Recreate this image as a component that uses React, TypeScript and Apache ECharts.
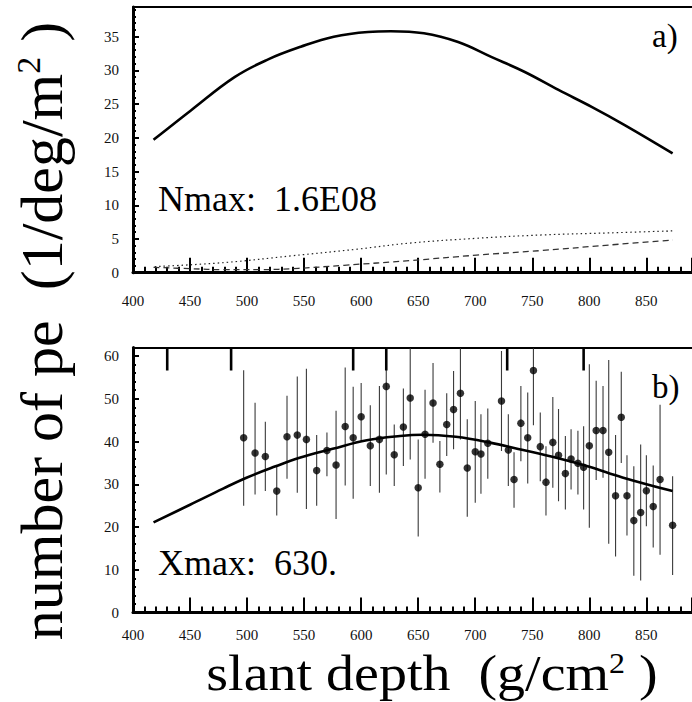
import React, { useEffect, useRef } from "react";
import * as echarts from "echarts";

// ---- Panel a) : longitudinal profile (number of pe vs slant depth)
const aDepth = [418, 451, 489, 518, 547, 576, 606, 626, 655, 685, 714, 743, 773, 802, 831, 873];
const aTotal = [19.7, 24.1, 29.0, 31.6, 33.5, 35.0, 35.7, 35.8, 35.5, 34.2, 32.0, 29.8, 27.1, 24.6, 21.9, 17.7];
const aDotDepth = [419, 480, 539, 597, 643, 701, 759, 817, 873];
const aDotted = [0.9, 1.5, 2.5, 3.5, 4.4, 5.1, 5.6, 5.9, 6.2];
const aDashDepth = [418, 450, 480, 510, 545, 585, 643, 701, 759, 817, 873];
const aDashed = [0.8, 0.6, 0.45, 0.45, 0.65, 1.1, 1.8, 2.6, 3.3, 4.1, 4.85];

// ---- Panel b) : measured points with error bars and fit
const bDepth = [497, 507, 516, 526, 535, 544, 552, 561, 570, 578, 586, 593, 600, 608, 616, 622, 629, 637, 643, 650, 656, 663, 669, 675, 681, 687, 693, 700, 705, 711, 723, 729, 734, 740, 746, 751, 757, 762, 768, 773, 779, 784, 790, 795, 800, 806, 812, 817, 823, 828, 833, 839, 845, 850, 856, 862, 873];
const bValue = [40.9, 37.3, 36.5, 28.4, 41.1, 41.5, 40.5, 33.2, 37.9, 34.5, 43.5, 40.9, 45.8, 39.0, 40.5, 52.9, 36.9, 43.4, 50.2, 29.2, 41.7, 49.0, 34.7, 44.0, 47.5, 51.3, 33.8, 37.6, 37.1, 39.6, 49.5, 38.0, 31.1, 44.3, 40.9, 56.6, 38.8, 30.5, 39.8, 36.8, 32.5, 35.9, 34.9, 34.0, 39.0, 42.6, 42.6, 37.5, 27.3, 45.7, 27.3, 21.5, 23.4, 28.5, 24.8, 31.1, 20.4];
const bLow = [25.0, 27.6, 28.4, 22.7, 31.3, 28.0, 24.2, 25.0, 31.9, 21.9, 29.7, 26.6, 40.1, 29.6, 28.0, 32.3, 29.6, 34.3, 35.8, 17.8, 31.3, 39.7, 28.1, 36.6, 38.2, 40.5, 22.4, 25.7, 27.8, 31.3, 37.8, 29.6, 24.5, 35.4, 30.2, 43.8, 30.7, 22.7, 29.2, 26.0, 24.1, 28.8, 27.6, 24.1, 19.8, 31.0, 31.5, 16.1, 13.1, 35.0, 18.0, 8.6, 7.5, 20.2, 15.2, 13.5, 8.8];
const bHigh = [56.7, 49.1, 44.6, 34.2, 50.7, 55.2, 57.0, 41.5, 42.1, 47.2, 57.3, 52.8, 53.7, 48.5, 53.0, 62.0, 44.0, 52.4, 61.8, 40.5, 52.1, 58.4, 40.1, 51.3, 56.5, 61.8, 45.2, 49.5, 46.4, 47.7, 61.2, 46.4, 37.5, 53.0, 51.5, 61.8, 46.8, 38.9, 50.4, 47.6, 41.3, 42.9, 42.5, 43.6, 58.1, 54.2, 53.0, 59.1, 41.5, 56.3, 36.8, 34.2, 39.3, 36.8, 34.4, 48.6, 31.9];
const bFitDepth = [418, 450, 479, 500, 525, 546, 575, 605, 634, 654, 683, 712, 742, 771, 800, 829, 873];
const bFit = [21.1, 25.2, 29.0, 31.6, 34.2, 36.2, 38.3, 40.3, 41.3, 41.6, 41.1, 39.8, 38.0, 36.2, 34.1, 31.6, 28.4];
const bMarks = [430, 486, 593, 622, 728, 795];

const xTickLabels = ["400", "450", "500", "550", "600", "650", "700", "750", "800", "850"];

const SERIF = "Liberation Serif";
const X_MIN = 400;
const X_MAX = 890;
const A_MAX = 39.4;
const B_MAX = 62;

const zip = (xs: number[], ys: number[]) => xs.map((x, i) => [x, ys[i]]);

function bottomAxis(grid: number, margin: number) {
  return {
    type: "value",
    gridIndex: grid,
    position: "bottom",
    min: X_MIN,
    max: X_MAX,
    interval: 50,
    axisLine: { show: true, onZero: false, lineStyle: { color: "#000", width: 3 } },
    axisTick: { show: true, inside: true, length: 15, lineStyle: { color: "#000", width: 2 } },
    minorTick: { show: true, splitNumber: 5, length: 6, lineStyle: { color: "#000", width: 2 } },
    splitLine: { show: false },
    minorSplitLine: { show: false },
    axisLabel: {
      show: true,
      margin,
      fontSize: 15,
      fontFamily: SERIF,
      color: "#111",
      showMaxLabel: false,
      formatter: (v: number) => (xTickLabels.indexOf(String(v)) >= 0 ? String(v) : ""),
    },
  };
}

function topAxis(grid: number) {
  return {
    type: "value",
    gridIndex: grid,
    position: "top",
    min: X_MIN,
    max: X_MAX,
    interval: 50,
    axisLine: { show: true, onZero: false, lineStyle: { color: "#000", width: 2 } },
    axisTick: { show: false },
    axisLabel: { show: false },
    splitLine: { show: false },
  };
}

function leftAxis(grid: number, max: number, interval: number) {
  return {
    type: "value",
    gridIndex: grid,
    min: 0,
    max,
    interval,
    axisLine: { show: true, onZero: false, lineStyle: { color: "#000", width: 3 } },
    axisTick: { show: true, inside: true, length: 6, lineStyle: { color: "#000", width: 2 } },
    minorTick: { show: true, splitNumber: 5, length: 3, lineStyle: { color: "#000", width: 2 } },
    splitLine: { show: false },
    axisLabel: {
      show: true,
      margin: 14,
      fontSize: 15,
      fontFamily: SERIF,
      color: "#111",
      showMaxLabel: false,
    },
  };
}

function plainText(x: number, y: number, text: string, size: number) {
  return {
    type: "text",
    x,
    y,
    style: {
      text,
      fontSize: size,
      fontFamily: SERIF,
      fill: "#000",
      align: "left",
      verticalAlign: "middle",
      textAlign: "left",
      textVerticalAlign: "middle",
    },
  };
}

export default function App() {
  const ref = useRef<HTMLDivElement | null>(null);

  useEffect(() => {
    if (!ref.current) return;
    const chart = echarts.init(ref.current, null, { renderer: "svg" });

    const option: any = {
      animation: false,
      backgroundColor: "#fff",
      textStyle: { fontFamily: SERIF },
      grid: [
        { left: 133, right: -1, top: 7, height: 265.7, containLabel: false },
        { left: 133, right: -1, top: 347.5, height: 265, containLabel: false },
      ],
      xAxis: [bottomAxis(0, 21), topAxis(0), bottomAxis(1, 15), topAxis(1)],
      yAxis: [leftAxis(0, A_MAX, 5), leftAxis(1, B_MAX, 10)],
      series: [
        {
          type: "line",
          xAxisIndex: 0,
          yAxisIndex: 0,
          data: zip(aDepth, aTotal),
          smooth: 0.4,
          showSymbol: false,
          symbol: "none",
          lineStyle: { color: "#000", width: 2.6 },
          z: 5,
        },
        {
          type: "line",
          xAxisIndex: 0,
          yAxisIndex: 0,
          data: zip(aDotDepth, aDotted),
          smooth: 0.4,
          symbol: "none",
          lineStyle: { color: "#222", width: 1.2, type: [1.5, 3] },
        },
        {
          type: "line",
          xAxisIndex: 0,
          yAxisIndex: 0,
          data: zip(aDashDepth, aDashed),
          smooth: 0.4,
          symbol: "none",
          lineStyle: { color: "#333", width: 1.3, type: [6, 4] },
        },
        {
          type: "custom",
          xAxisIndex: 2,
          yAxisIndex: 1,
          silent: true,
          clip: true,
          data: bDepth.map((d, i) => [d, bLow[i], bHigh[i]]),
          encode: { x: 0, y: [1, 2] },
          renderItem: (_params: any, api: any) => {
            const p1 = api.coord([api.value(0), api.value(1)]);
            const p2 = api.coord([api.value(0), api.value(2)]);
            return {
              type: "line",
              shape: { x1: p1[0], y1: p1[1], x2: p2[0], y2: p2[1] },
              style: { stroke: "#3a3a3a", lineWidth: 1.1 },
            };
          },
          z: 2,
        },
        {
          type: "line",
          xAxisIndex: 2,
          yAxisIndex: 1,
          data: zip(bFitDepth, bFit),
          smooth: 0.4,
          symbol: "none",
          lineStyle: { color: "#000", width: 2.6 },
          z: 4,
        },
        {
          type: "scatter",
          xAxisIndex: 2,
          yAxisIndex: 1,
          data: zip(bDepth, bValue),
          symbol: "circle",
          symbolSize: 7.5,
          itemStyle: { color: "#000" },
          z: 6,
        },
        {
          type: "custom",
          xAxisIndex: 2,
          yAxisIndex: 1,
          silent: true,
          data: bMarks.map((d) => [d, B_MAX]),
          encode: { x: 0, y: 1 },
          renderItem: (_params: any, api: any) => {
            const p = api.coord([api.value(0), api.value(1)]);
            return {
              type: "line",
              shape: { x1: p[0], y1: p[1], x2: p[0], y2: p[1] + 23 },
              style: { stroke: "#000", lineWidth: 2.6 },
            };
          },
          z: 7,
        },
      ],
      graphic: [
        plainText(158, 199, "Nmax:  1.6E08", 36),
        plainText(158, 563, "Xmax:  630.", 36),
        plainText(652, 36, "a)", 33),
        plainText(652, 387, "b)", 33),
        {
          type: "text",
          x: 42,
          y: 331,
          rotation: Math.PI / 2,
          style: {
            text: "{a|number of pe  (1/deg/m}{s|2}{a| )}",
            fill: "#000",
            align: "center",
            verticalAlign: "middle",
            textAlign: "center",
            textVerticalAlign: "middle",
            rich: {
              a: { fontSize: 60, fontFamily: SERIF, lineHeight: 62, fill: "#000", color: "#000" },
              s: { fontSize: 34, fontFamily: SERIF, verticalAlign: "top", fill: "#000", color: "#000" },
            },
          },
        },
        {
          type: "text",
          x: 432,
          y: 673.5,
          scaleY: 0.9,
          style: {
            text: "{a|slant depth  (g/cm}{s|2}{a| )}",
            fill: "#000",
            align: "center",
            verticalAlign: "middle",
            textAlign: "center",
            textVerticalAlign: "middle",
            rich: {
              a: { fontSize: 56, fontFamily: SERIF, lineHeight: 54, fill: "#000", color: "#000" },
              s: { fontSize: 32, fontFamily: SERIF, verticalAlign: "top", fill: "#000", color: "#000" },
            },
          },
        },
      ],
    };

    chart.setOption(option);
    return () => {
      chart.dispose();
    };
  }, []);

  return (
    <div
      ref={ref}
      style={{ position: "absolute", left: 0, top: 0, width: 692, height: 702, background: "#fff" }}
    />
  );
}
